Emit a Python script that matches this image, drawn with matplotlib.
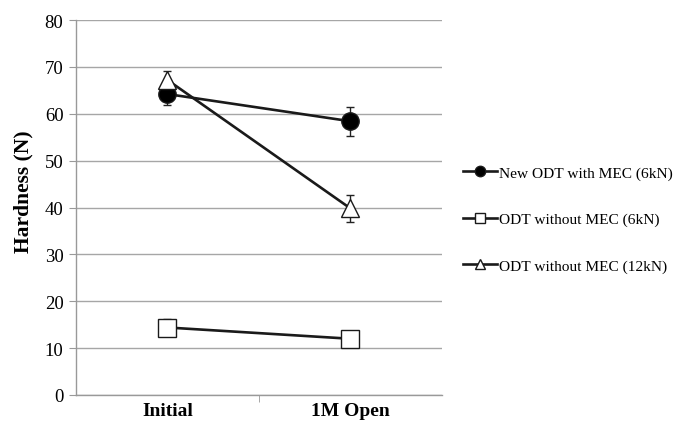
import matplotlib.pyplot as plt

plt.rcParams['font.family'] = ['Liberation Serif', 'DejaVu Serif']

stages = ['Initial', '1M Open']
new_mec_6kn = [64.2, 58.4]
new_mec_6kn_err = [2.3, 3.1]
no_mec_6kn = [14.4, 12.0]
no_mec_6kn_err = [1.8, 0.4]
no_mec_12kn = [67.2, 39.8]
no_mec_12kn_err = [1.9, 2.8]

labels = ['New ODT with MEC (6kN)', 'ODT without MEC (6kN)', 'ODT without MEC (12kN)']

fig = plt.figure(figsize=(6.81, 4.27), dpi=100)
ax = fig.add_axes([0.1116, 0.0726, 0.5374, 0.8782])

x = range(len(stages))
series = [
    (new_mec_6kn, new_mec_6kn_err, 'o', 'k'),
    (no_mec_6kn, no_mec_6kn_err, 's', 'white'),
    (no_mec_12kn, no_mec_12kn_err, '^', 'white'),
]
handles = []
for (vals, err, mk, fc), lab in zip(series, labels):
    ax.errorbar(x, vals, yerr=err, fmt='none', ecolor='#222222',
                elinewidth=1.0, capsize=3, capthick=1.0, zorder=2)
    h, = ax.plot(x, vals, color='#1a1a1a', lw=1.9, marker=mk, ms=12.5,
                 mfc=fc, mec='#1a1a1a', mew=1.0, label=lab, zorder=3)
    handles.append(h)

ax.set_xlim(-0.5, 1.5)
ax.set_ylim(0, 80)
ax.set_yticks(range(0, 81, 10))
ax.set_xticks(list(x))
ax.set_xticklabels(stages, fontweight='bold', fontsize=14)
ax.set_xticks([0.5], minor=True)
ax.tick_params(axis='x', which='major', length=0, pad=5)
ax.tick_params(axis='x', which='minor', length=5, color='#999999')
ax.tick_params(axis='y', length=5, color='#999999', labelsize=13.5, pad=4)
ax.grid(axis='y', color='#a6a6a6', lw=1.0)
ax.set_axisbelow(True)
for s in ['top', 'right']:
    ax.spines[s].set_visible(False)
for s in ['left', 'bottom']:
    ax.spines[s].set_color('#999999')
    ax.spines[s].set_linewidth(1.0)

ax.set_ylabel('Hardness (N)', fontweight='bold', fontsize=15.5)
ax.yaxis.set_label_coords(-0.117, 0.544)

fig.legend(handles=handles, labels=labels, loc='center left',
           bbox_to_anchor=(0.659, 0.484), frameon=False, fontsize=11.1,
           markerscale=0.6, handlelength=2.2, handletextpad=0.15,
           labelspacing=2.1)

fig.savefig('out.png', dpi=100)
